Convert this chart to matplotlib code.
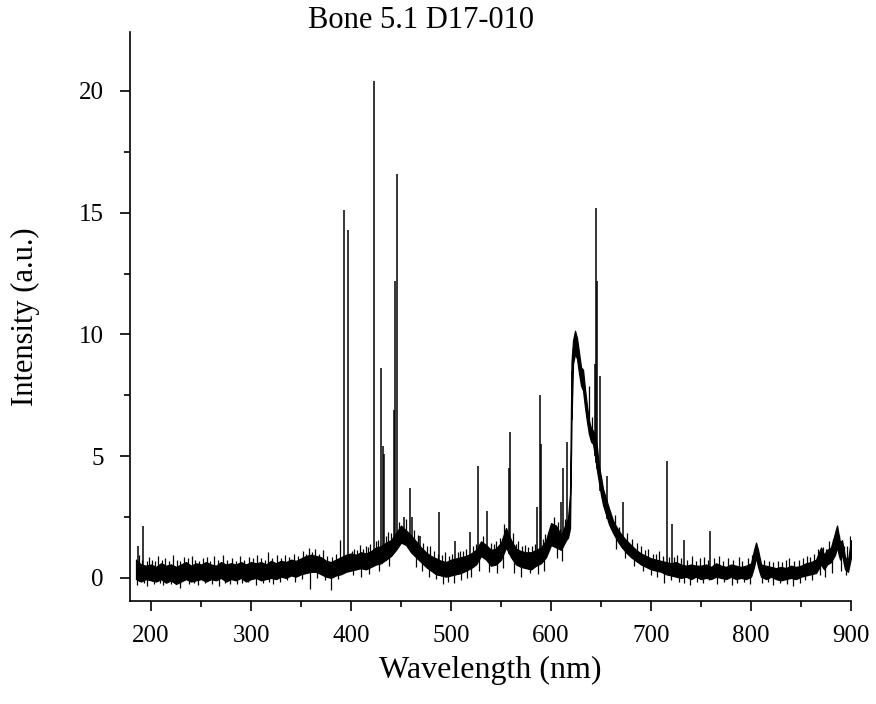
import numpy as np
import matplotlib
matplotlib.use('Agg')
import matplotlib.pyplot as plt
from matplotlib.ticker import MultipleLocator

plt.rcParams['font.family'] = ['Liberation Serif', 'DejaVu Serif']

# noise band of the spectrum (lower / upper edge)
env_wl = [185, 190, 195, 200, 205, 210, 215, 220, 225, 230, 235, 240, 245, 250,
          255, 260, 265, 270, 275, 280, 285, 290, 295, 300, 305, 310, 315, 320,
          325, 330, 335, 340, 345, 350, 355, 360, 365, 370, 375, 380, 385, 390,
          395, 400, 405, 410, 415, 420, 425, 430, 435, 440, 445, 450, 455, 460,
          465, 470, 475, 480, 485, 490, 495, 500, 505, 510, 515, 520, 525, 530,
          535, 540, 545, 550, 555, 560, 565, 570, 575, 580, 585, 590, 595, 600,
          605, 610, 615, 617, 619, 620.5, 622, 624, 626, 628, 630, 632, 634, 636,
          638, 640, 642, 644, 646, 648, 650, 652, 655, 658, 662, 666, 670, 675,
          680, 685, 690, 695, 700, 705, 710, 715, 720, 725, 730, 735, 740, 745,
          750, 755, 760, 765, 770, 775, 780, 785, 790, 795, 800, 803, 805, 807,
          810, 815, 820, 825, 830, 835, 840, 845, 850, 855, 860, 865, 870, 873,
          876, 880, 884, 886, 889, 891, 894, 897, 900]
env_lo = [-0.05, -0.15, -0.05, -0.1, -0.15, -0.05, -0.2, -0.1, -0.25, -0.15, -0.05, -0.15, -0.1, -0.05,
          -0.15, -0.05, -0.1, 0.0, -0.15, -0.05, -0.1, 0.0, -0.15, -0.05, 0.0, -0.1, -0.05, 0.0,
          -0.05, 0.05, 0.0, 0.1, 0.05, 0.15, 0.2, 0.25, 0.25, 0.15, 0.05, 0.0, 0.1, 0.15,
          0.25, 0.3, 0.35, 0.4, 0.35, 0.45, 0.55, 0.6, 0.75, 0.9, 1.15, 1.45, 1.35, 1.05,
          0.85, 0.65, 0.45, 0.3, 0.15, 0.1, 0.05, 0.1, 0.15, 0.2, 0.3, 0.4, 0.55, 0.9,
          0.75, 0.5, 0.55, 0.75, 1.25, 0.85, 0.55, 0.45, 0.4, 0.35, 0.5, 0.6, 0.85, 1.35,
          1.25, 1.15, 1.55, 1.65, 2.05, 6.5, 8.8, 9.2, 9.0, 8.4, 7.9, 7.7, 7.0, 6.4,
          5.9, 5.6, 5.5, 5.0, 4.4, 3.9, 3.4, 3.0, 2.6, 2.2, 1.85, 1.55, 1.3, 1.05,
          0.85, 0.7, 0.55, 0.45, 0.35, 0.3, 0.25, 0.15, 0.1, 0.05, 0.0, 0.05, -0.05, 0.05,
          -0.05, 0.0, -0.05, 0.05, 0.0, -0.05, 0.05, -0.05, 0.0, -0.05, 0.05, 0.45, 0.85, 0.45,
          0.05, -0.05, 0.05, -0.05, -0.1, -0.05, 0.0, -0.05, 0.05, 0.1, 0.15, 0.2, 0.55, 0.35,
          0.55, 0.65, 0.95, 1.25, 0.75, 0.95, 0.35, 0.25, 0.85]
env_hi = [0.75, 0.55, 0.5, 0.55, 0.45, 0.6, 0.5, 0.55, 0.45, 0.55, 0.65, 0.5, 0.6, 0.55,
          0.65, 0.55, 0.5, 0.65, 0.55, 0.6, 0.55, 0.65, 0.55, 0.65, 0.6, 0.65, 0.55, 0.7,
          0.6, 0.7, 0.65, 0.75, 0.7, 0.8, 0.9, 0.95, 0.9, 0.85, 0.7, 0.65, 0.75, 0.85,
          0.95, 1.0, 0.95, 1.05, 1.0, 1.1, 1.25, 1.3, 1.45, 1.55, 1.85, 2.15, 1.95, 1.75,
          1.5, 1.25, 1.05, 0.9, 0.8, 0.7, 0.65, 0.75, 0.8, 0.85, 0.9, 1.0, 1.15, 1.5,
          1.35, 1.15, 1.2, 1.45, 2.05, 1.55, 1.2, 1.1, 1.05, 1.05, 1.15, 1.25, 1.55, 2.25,
          2.15, 1.75, 2.25, 2.45, 3.45, 8.9, 9.75, 10.15, 9.85, 9.25, 8.65, 8.55, 7.75, 7.05,
          6.45, 6.15, 6.05, 5.85, 5.35, 4.55, 4.15, 3.65, 3.25, 2.85, 2.35, 2.05, 1.8, 1.55,
          1.35, 1.15, 1.0, 0.9, 0.8, 0.75, 0.7, 0.65, 0.6, 0.65, 0.55, 0.5, 0.55, 0.5,
          0.5, 0.55, 0.45, 0.6, 0.5, 0.45, 0.55, 0.5, 0.45, 0.5, 0.6, 1.15, 1.45, 1.15,
          0.55, 0.5, 0.45, 0.4, 0.45, 0.4, 0.5, 0.45, 0.5, 0.6, 0.65, 0.75, 1.25, 0.95,
          1.15, 1.25, 1.85, 2.15, 1.45, 1.55, 0.85, 0.75, 1.55]

# emission lines: wavelength (nm) and peak intensity
line_wl = [187.5, 192.5, 393.4, 396.8, 422.7, 430.3, 431.9, 433.0, 442.7, 443.5,
           445.5, 452.9, 458.6, 460.8, 468.9, 488.3, 504.1, 518.9, 527.0, 535.7,
           558.2, 558.9, 585.7, 588.9, 589.6, 610.2, 612.2, 616.2, 620.5, 644.0,
           644.9, 645.7, 649.4, 656.4, 672.3, 715.7, 720.9, 733.2, 759.4]
line_top = [1.3, 2.15, 15.1, 14.3, 20.4, 8.6, 5.4, 5.1, 6.9, 12.2,
            16.6, 2.5, 3.7, 2.5, 1.7, 2.7, 1.5, 1.9, 4.6, 2.75,
            4.5, 6.0, 2.9, 7.5, 5.5, 3.1, 4.5, 5.6, 8.5, 8.8,
            15.2, 12.2, 8.3, 4.2, 3.1, 4.8, 2.2, 1.56, 1.93]

# small noise spikes above the band
spike_wl = [188, 191, 196, 198, 201, 204, 207, 211, 214, 218, 222, 226, 229, 233,
            237, 241, 244, 248, 252, 256, 259, 263, 267, 272, 276, 281, 285, 289,
            293, 298, 302, 306, 310, 314, 317, 321, 326, 330, 334, 338, 343, 347,
            352, 355, 358, 361, 364, 368, 372, 376, 381, 385, 389, 401, 403, 406,
            409, 412, 415, 417, 419, 425, 427, 435, 437, 440, 448, 455, 463, 467,
            472, 476, 479, 483, 487, 491, 494, 498, 501, 507, 509, 512, 515, 522,
            525, 532, 540, 543, 545, 549, 553, 562, 565, 567, 571, 574, 577, 581,
            584, 592, 594, 597, 603, 607, 609, 614, 618, 638, 641, 660, 664, 668,
            676, 681, 686, 690, 694, 697, 702, 705, 708, 712, 718, 723, 726, 730,
            736, 741, 745, 749, 753, 757, 763, 768, 772, 777, 782, 788, 791, 797,
            801, 809, 813, 818, 822, 827, 831, 835, 838, 843, 848, 852, 856, 859,
            863, 867, 872, 875, 878, 882, 888, 893, 896, 899]
spike_top = [0.95, 0.75, 0.7, 0.85, 0.75, 0.7, 0.9, 0.75, 0.8, 0.7, 0.95, 0.75, 0.7, 0.85,
             0.8, 0.9, 0.75, 0.7, 0.8, 0.85, 0.7, 0.9, 0.75, 0.95, 0.75, 0.8, 0.7, 0.9,
             0.75, 0.85, 0.8, 0.95, 0.8, 0.75, 1.08, 0.8, 0.95, 0.8, 0.95, 0.85, 1.0, 0.9,
             1.1, 1.0, 1.23, 1.05, 1.2, 1.0, 1.15, 0.9, 0.85, 1.0, 1.56, 1.1, 1.2, 1.15,
             1.35, 1.2, 1.3, 1.25, 1.4, 1.5, 1.55, 1.7, 1.9, 1.85, 2.3, 2.4, 1.95, 1.75,
             1.45, 1.3, 1.3, 1.1, 1.0, 0.95, 1.05, 0.9, 1.0, 1.05, 1.1, 1.1, 1.2, 1.3,
             1.4, 1.7, 1.45, 1.4, 1.5, 1.65, 2.2, 1.85, 1.4, 1.5, 1.3, 1.35, 1.25, 1.3,
             1.4, 1.6, 1.8, 1.9, 2.5, 2.3, 2.0, 2.4, 2.7, 7.9, 6.6, 2.6, 2.6, 2.1,
             1.85, 1.6, 1.45, 1.3, 1.15, 1.2, 1.0, 1.0, 1.1, 0.9, 0.85, 0.85, 0.95, 0.8,
             0.75, 0.9, 0.7, 0.8, 0.85, 0.75, 0.8, 0.9, 0.7, 0.8, 0.75, 0.85, 0.7, 0.8,
             0.95, 0.8, 0.75, 0.7, 0.65, 0.7, 0.65, 0.75, 0.8, 0.7, 0.75, 0.8, 0.9, 0.85,
             1.0, 1.2, 1.25, 1.2, 1.5, 1.6, 1.75, 1.3, 1.3, 1.7]
# and below it
dip_wl = [186, 193, 196, 203, 209, 212, 220, 224, 229, 238, 243, 247, 254, 261,
          268, 274, 279, 286, 291, 297, 305, 312, 318, 322, 329, 336, 344, 351,
          359, 366, 374, 380, 387, 402, 410, 418, 428, 438, 465, 471, 478, 485,
          492, 497, 503, 510, 516, 520, 528, 538, 546, 552, 563, 570, 579, 587,
          593, 606, 611, 665, 674, 683, 692, 700, 706, 713, 720, 728, 733, 739,
          746, 752, 758, 766, 773, 781, 786, 793, 799, 811, 817, 822, 829, 836,
          842, 849, 854, 861, 869, 874, 881, 890, 895]
dip_bot = [-0.3, -0.2, -0.35, -0.25, -0.2, -0.3, -0.25, -0.2, -0.42, -0.25, -0.2, -0.3, -0.2, -0.25,
           -0.35, -0.2, -0.25, -0.25, -0.2, -0.15, -0.3, -0.2, -0.15, -0.25, -0.15, -0.1, -0.15, -0.05,
           -0.45, 0.0, -0.1, -0.5, -0.05, 0.1, 0.05, 0.15, 0.3, 0.5, 0.45, 0.3, 0.05, -0.05,
           -0.25, -0.15, -0.2, -0.1, 0.0, 0.05, 0.3, 0.25, 0.2, 0.4, 0.2, 0.05, 0.2, 0.15,
           0.3, 0.8, 0.7, 1.2, 0.8, 0.5, 0.3, 0.1, 0.05, -0.2, -0.1, -0.15, -0.2, -0.3,
           -0.15, -0.2, -0.1, -0.25, -0.15, -0.3, -0.2, -0.15, -0.25, -0.2, -0.15, -0.3, -0.2, -0.25,
           -0.35, -0.2, -0.1, -0.1, 0.1, 0.05, 0.2, 0.3, 0.1]

fig = plt.figure(figsize=(8.76, 7.04), dpi=100)
ax = fig.add_axes([0.1484, 0.1463, 0.8231, 0.8082])

ax.fill_between(env_wl, env_lo, env_hi, color='black', lw=0.9)

lo_at = np.interp(line_wl, env_wl, env_lo)
ax.vlines(line_wl, lo_at, line_top, color='black', lw=1.1)
ax.vlines(spike_wl, np.interp(spike_wl, env_wl, env_lo), spike_top, color='black', lw=0.9)
ax.vlines(dip_wl, dip_bot, np.interp(dip_wl, env_wl, env_hi), color='black', lw=0.9)

ax.set_xlim(179, 900)
ax.set_ylim(-0.95, 22.42)
ax.xaxis.set_major_locator(MultipleLocator(100))
ax.xaxis.set_minor_locator(MultipleLocator(50))
ax.yaxis.set_major_locator(MultipleLocator(5))
ax.yaxis.set_minor_locator(MultipleLocator(2.5))

for s in ['top', 'right']:
    ax.spines[s].set_visible(False)
for s in ['left', 'bottom']:
    ax.spines[s].set_linewidth(1.2)

ax.tick_params(which='major', direction='out', length=7, width=1.2, labelsize=18)
ax.tick_params(axis='x', which='major', pad=10)
ax.tick_params(axis='y', which='major', pad=12)
ax.tick_params(which='minor', direction='out', length=4, width=1.2)

ax.set_xlabel('Wavelength (nm)', fontsize=23, labelpad=7)
ax.set_ylabel('Intensity (a.u.)', fontsize=22, labelpad=28)
fig.text(0.481, 0.971, 'Bone 5.1 D17-010', fontsize=22, ha='center', va='center')

fig.savefig('out.png', dpi=100)
